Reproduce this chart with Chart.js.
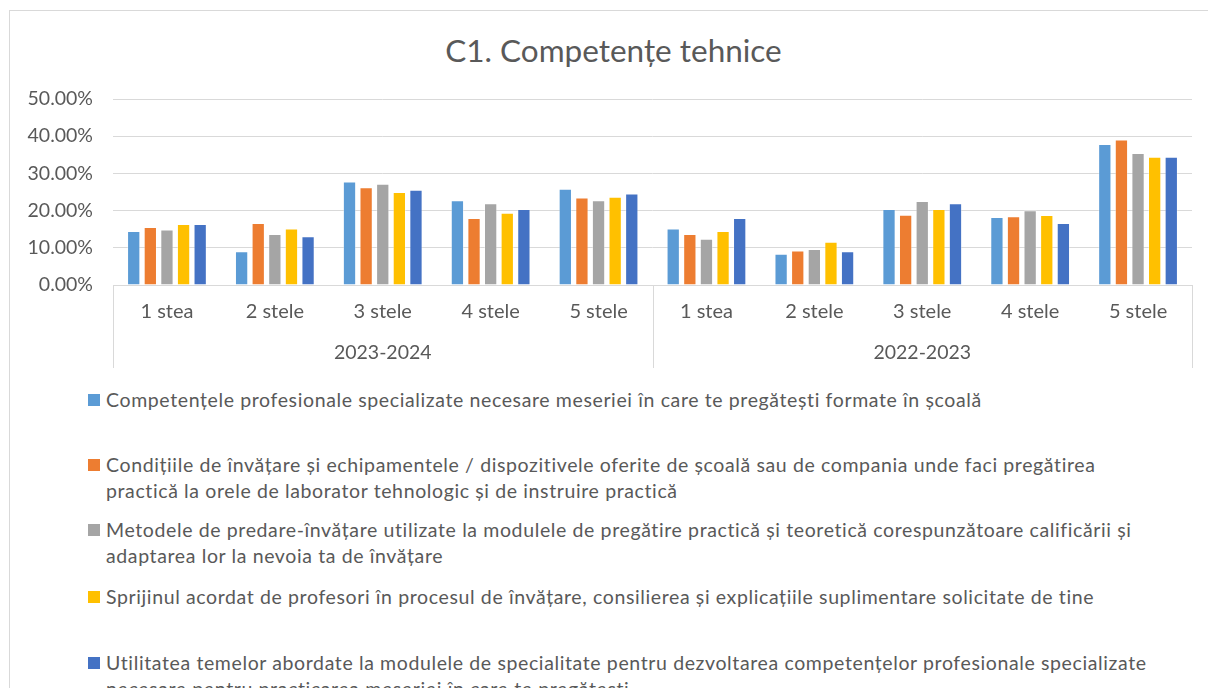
<!DOCTYPE html>
<html>
<head>
<meta charset="utf-8">
<script src="https://cdn.jsdelivr.net/npm/chart.js@4.4.1/dist/chart.umd.min.js"></script>
<style>
  body { margin: 0; background: #fff; width: 1208px; height: 688px; overflow: hidden; position: relative; font-family: Lato, "Open Sans", sans-serif; }
  #frame { position: absolute; left: 9px; top: 10px; width: 1400px; height: 1000px; border: 1px solid #d9d9d9; box-sizing: border-box; }
  #title { position: absolute; left: 0; top: 30px; width: 1227px; text-align: center; color: #595959; font-size: 31.5px; line-height: 40px; }
  #wrap { position: absolute; left: 0; top: 0; width: 1208px; height: 372px; }
  #legend { position: absolute; left: 88px; top: 0; width: 1110px; color: #595959; font-size: 19.5px; letter-spacing: 0.62px; }
  .item { position: absolute; left: 0; line-height: 26px; padding-left: 18px; white-space: nowrap; }
  .box { position: absolute; left: 0; top: 7px; width: 12px; height: 12px; }
</style>
</head>
<body>
<div id="frame"></div>
<div id="title">C1. Competențe tehnice</div>
<div id="wrap"><canvas id="chartC1"></canvas></div>
<div id="legend"></div>
<script>
// etichete axa X (doua niveluri)
var categories = ['1 stea', '2 stele', '3 stele', '4 stele', '5 stele',
                  '1 stea', '2 stele', '3 stele', '4 stele', '5 stele'];
var groups = ['2023-2024', '2022-2023'];

// valori in procente
var serie1 = [14.5, 9.1, 27.8, 22.8, 25.9, 15.2, 8.4, 20.4, 18.3, 37.9];
var serie2 = [15.6, 16.7, 26.3, 18.0, 23.5, 13.7, 9.3, 18.9, 18.5, 39.1];
var serie3 = [14.9, 13.7, 27.2, 22.0, 22.8, 12.4, 9.7, 22.6, 20.1, 35.5];
var serie4 = [16.4, 15.2, 25.0, 19.4, 23.7, 14.5, 11.6, 20.4, 18.8, 34.5];
var serie5 = [16.4, 13.1, 25.6, 20.4, 24.6, 18.0, 9.1, 22.0, 16.7, 34.5];

var yTicks = [0, 10, 20, 30, 40, 50];

var seriesNames = [
  ['Competențele profesionale specializate necesare meseriei în care te pregătești formate în școală'],
  ['Condițiile de învățare și echipamentele / dispozitivele oferite de școală sau de compania unde faci pregătirea',
   'practică la orele de laborator tehnologic și de instruire practică'],
  ['Metodele de predare-învățare utilizate la modulele de pregătire practică și teoretică corespunzătoare calificării și',
   'adaptarea lor la nevoia ta de învățare'],
  ['Sprijinul acordat de profesori în procesul de învățare, consilierea și explicațiile  suplimentare solicitate de tine'],
  ['Utilitatea temelor abordate la modulele de specialitate pentru dezvoltarea competențelor profesionale specializate',
   'necesare pentru practicarea meseriei în care te pregătești']
];
var seriesValues = [serie1, serie2, serie3, serie4, serie5];
var colors = ['#5B9BD5', '#ED7D31', '#A5A5A5', '#FFC000', '#4472C4'];
var legendTops = [387, 452, 517, 584, 650];

var textColor = '#595959';
var gridColor = '#d9d9d9';
var fontFam = 'Lato, "Open Sans", sans-serif';

// liniile verticale dintre grupuri (sub axa)
var groupLines = {
  id: 'groupLines',
  afterDraw: function(chart) {
    var x = chart.scales.x, x2 = chart.scales.x2, ctx = chart.ctx;
    var per = categories.length / groups.length;
    var xs = [x.left];
    for (var g = 1; g < groups.length; g++) {
      xs.push((x.getPixelForValue(g * per - 1) + x.getPixelForValue(g * per)) / 2);
    }
    xs.push(x.right);
    ctx.save();
    ctx.strokeStyle = gridColor;
    ctx.lineWidth = 1;
    xs.forEach(function(px) {
      px = Math.round(px) + 0.5;
      ctx.beginPath();
      ctx.moveTo(px, x.top);
      ctx.lineTo(px, x2.bottom);
      ctx.stroke();
    });
    ctx.restore();
  }
};

var datasets = [];
for (var i = 0; i < seriesValues.length; i++) {
  datasets.push({
    label: seriesNames[i].join(' '),
    data: seriesValues[i],
    backgroundColor: colors[i],
    borderColor: 'rgba(255,255,255,0.35)',
    borderWidth: 1,
    categoryPercentage: 0.77,
    barPercentage: 0.8
  });
}

var ctx = document.getElementById('chartC1').getContext('2d');
var chart = new Chart(ctx, {
  type: 'bar',
  data: { labels: categories, datasets: datasets },
  options: {
    responsive: true,
    maintainAspectRatio: false,
    animation: false,
    layout: { padding: { left: 10, right: 16, top: 99, bottom: 4 } },
    plugins: {
      legend: { display: false },
      tooltip: { enabled: false },
      title: { display: false }
    },
    scales: {
      x: {
        weight: 0,
        afterFit: function(scale) { scale.height = 37; },
        grid: { display: false, drawTicks: false },
        border: { display: true, color: gridColor },
        ticks: { color: textColor, font: { family: fontFam, size: 20 }, padding: 15, maxRotation: 0, autoSkip: false }
      },
      x2: {
        type: 'category',
        position: 'bottom',
        weight: 1,
        labels: groups,
        offset: true,
        afterFit: function(scale) { scale.height = 46; },
        grid: { display: false, drawTicks: false },
        border: { display: false },
        ticks: { color: textColor, font: { family: fontFam, size: 19.5 }, padding: 19, maxRotation: 0 }
      },
      y: {
        min: 0,
        max: 50,
        afterFit: function(scale) { scale.width = 103; },
        afterBuildTicks: function(scale) { scale.ticks = yTicks.map(function(v) { return { value: v }; }); },
        grid: { color: gridColor, drawTicks: false },
        border: { display: false },
        ticks: {
          color: textColor,
          font: { family: fontFam, size: 19.5 },
          padding: 20,
          callback: function(v) { return v.toFixed(2) + '%'; }
        }
      }
    }
  },
  plugins: [groupLines]
});

// legenda
var leg = document.getElementById('legend');
for (var k = 0; k < seriesNames.length; k++) {
  var it = document.createElement('div');
  it.className = 'item';
  it.style.top = legendTops[k] + 'px';
  it.innerHTML = '<span class="box" style="background:' + colors[k] + '"></span>' + seriesNames[k].join('<br>');
  leg.appendChild(it);
}
</script>
</body>
</html>
